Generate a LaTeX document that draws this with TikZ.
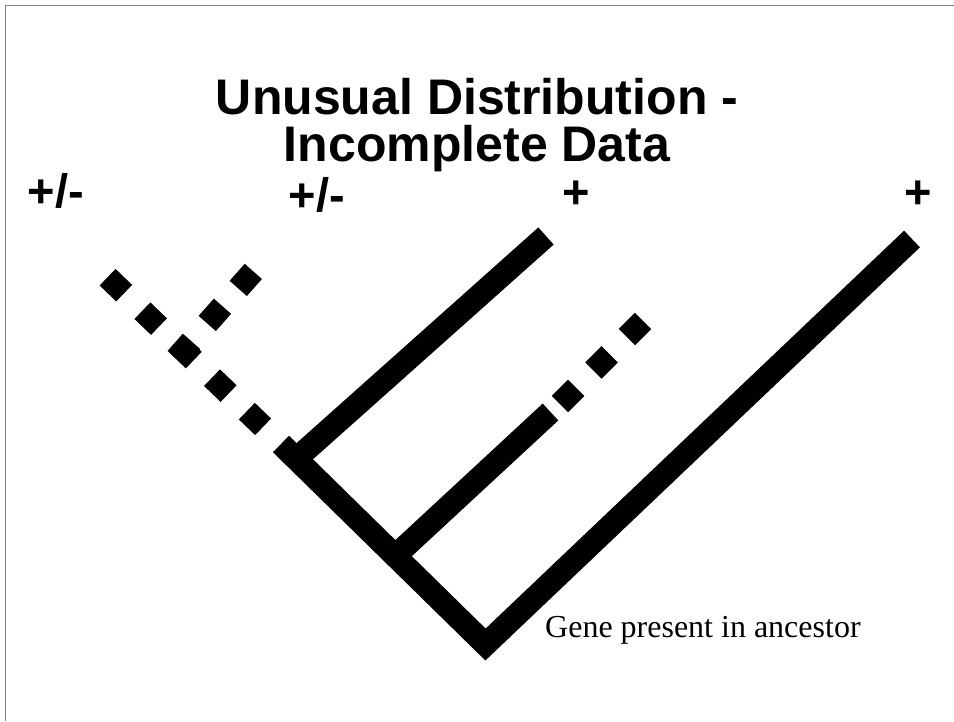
\documentclass[tikz,border=0pt]{standalone}
\usepackage{fontspec}
\setmainfont{Liberation Serif}
\newfontfamily\headfont{Liberation Sans}

\tikzset{
  branch/.style={line width=23pt, line cap=butt},
  dotbranch/.style={line width=23pt, line cap=butt, dash pattern=on 23pt off #1},
  dotbranch/.default=25pt,
  signlabel/.style={inner sep=0pt, font=\headfont\bfseries\fontsize{47}{52}\selectfont},
}

\begin{document}
\begin{tikzpicture}[x=1pt, y=-1pt, line join=miter]

  %% ════ frame ════
  \draw[gray, line width=1pt] (5,721) -- (5,5) -- (954,5);

  %% ════ title (base = baseline of its last line) ════
  \node[anchor=base, align=center, inner sep=0pt,
        font=\headfont\bfseries\fontsize{50}{47}\selectfont] (title) at (477,161)
        {Unusual Distribution -\\Incomplete Data};

  %% ════ tip labels ════
  \node[signlabel] (pmA) at (56,191) {+/-};
  \node[signlabel] (pmB) at (317,195) {+/-};
  \node[signlabel] (plA) at (576,195) {+};
  \node[signlabel] (plB) at (918,195) {+};

  %% ════ tree points ════
  \coordinate (root) at (485.5,644.5);
  \coordinate (trunkTop) at (281,444);
  \coordinate (tipR) at (912,239);
  \coordinate (jA) at (296,459);
  \coordinate (tipA) at (546,236);
  \coordinate (jB) at (394,557);
  \coordinate (endB) at (550.5,412);
  \coordinate (dotBs) at (559.9,404.1);
  \coordinate (dotBe) at (643.1,320.9);
  \coordinate (dotLs) at (107.6,277.2);
  \coordinate (dotLe) at (263.1,426.8);
  \coordinate (dotSs) at (176.2,358.5);
  \coordinate (dotSe) at (253.3,271.4);

  %% ════ solid branches ════
  \draw[branch] (trunkTop) -- (root) -- (tipR);
  \draw[branch] (jA) -- (tipA);
  \draw[branch] (jB) -- (endB);

  %% ════ dotted branches (incomplete data) ════
  \draw[dotbranch=24.4pt] (dotBs) -- (dotBe);
  \draw[dotbranch=25.3pt] (dotLs) -- (dotLe);
  \draw[dotbranch=23.8pt] (dotSs) -- (dotSe);

  %% ════ note ════
  \node[anchor=base west, inner sep=0pt, font=\fontsize{32}{38}\selectfont] (note) at (545,637)
        {Gene present in ancestor};

  \pgfresetboundingbox
  \path[use as bounding box] (0,0) rectangle (954,721);
\end{tikzpicture}
\end{document}
